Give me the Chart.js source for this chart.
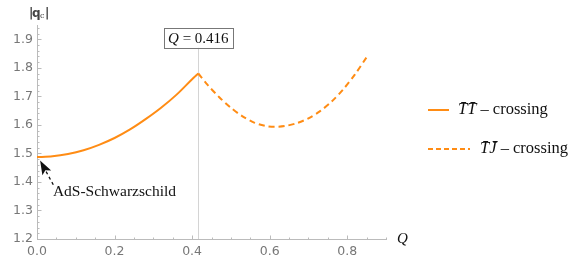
<!DOCTYPE html>
<html><head><meta charset="utf-8">
<script src="https://cdn.jsdelivr.net/npm/chart.js@4"></script>
<style>html,body{margin:0;padding:0;background:#fff}</style>
</head><body><canvas id="c" width="581" height="262" style="display:block;width:581px;height:262px"></canvas>
<script>
// Data
const qTT = [0.0, 0.04, 0.08, 0.12, 0.16, 0.2, 0.24, 0.28, 0.32, 0.36, 0.4, 0.416];
const vTT = [1.487, 1.490, 1.498, 1.511, 1.530, 1.554, 1.584, 1.620, 1.660, 1.706, 1.760, 1.780];
const qTJ = [0.416, 0.44, 0.47, 0.50, 0.53, 0.56, 0.59, 0.613, 0.64, 0.67, 0.70, 0.73, 0.76, 0.79, 0.82, 0.85];
const vTJ = [1.780, 1.740, 1.697, 1.660, 1.630, 1.608, 1.596, 1.593, 1.596, 1.606, 1.623, 1.648, 1.682, 1.725, 1.777, 1.837];
const yTicks = [1.2, 1.3, 1.4, 1.5, 1.6, 1.7, 1.8, 1.9];
const xTicks = [0.0, 0.2, 0.4, 0.6, 0.8];
const markQ = 0.416;
const labels = ['T\u0304T\u0304', 'T\u0304J\u0304'];

const ORANGE = 'rgb(255,140,20)';
const toPts = (xs, ys) => xs.map((x, i) => ({x, y: ys[i]}));

const deco = {
  id: 'deco',
  beforeDatasetsDraw(chart) {
    const {ctx, scales: {x, y}} = chart;
    ctx.save();
    ctx.strokeStyle = '#d4d4d4'; ctx.lineWidth = 1;
    const px = Math.round(x.getPixelForValue(markQ)) + 0.5;
    ctx.beginPath(); ctx.moveTo(px, y.bottom); ctx.lineTo(px, y.getPixelForValue(1.875)); ctx.stroke();
    ctx.restore();
  },
  afterDraw(chart) {
    const {ctx, scales: {x, y}} = chart;
    ctx.save();
    ctx.strokeStyle = '#bbbbbb'; ctx.lineWidth = 1;
    const x0 = Math.round(x.left) + 0.5, yb = Math.round(y.bottom) + 0.5;
    for (let k = 0; k <= 18; k++) {
      const v = k * 0.05; const p = Math.round(x.getPixelForValue(v)) + 0.5;
      const len = (k % 4 === 0) ? 4 : 2;
      ctx.beginPath(); ctx.moveTo(p, yb); ctx.lineTo(p, yb - len); ctx.stroke();
    }
    for (let k = 0; k <= 37; k++) {
      const v = 1.2 + k * 0.02; if (v > y.max) break;
      const p = Math.round(y.getPixelForValue(v)) + 0.5;
      const len = (k % 5 === 0) ? 4 : 2;
      ctx.beginPath(); ctx.moveTo(x0, p); ctx.lineTo(x0 + len, p); ctx.stroke();
    }
    const px = x.getPixelForValue(markQ);
    const by = y.getPixelForValue(1.905);
    const t1 = ' = 0.416';
    ctx.font = 'italic 15px "Liberation Serif", serif';
    const wq = ctx.measureText('Q').width;
    ctx.font = '15px "Liberation Serif", serif';
    const wt = ctx.measureText(t1).width;
    const tw = wq + wt + 8;
    ctx.fillStyle = '#fff';
    ctx.fillRect(px - tw / 2, by - 10, tw, 20);
    ctx.strokeStyle = '#777'; ctx.lineWidth = 1;
    ctx.strokeRect(Math.round(px - tw / 2) + 0.5, Math.round(by - 10) + 0.5, Math.round(tw), 20);
    ctx.fillStyle = '#111'; ctx.textBaseline = 'middle'; ctx.textAlign = 'left';
    ctx.font = 'italic 15px "Liberation Serif", serif';
    ctx.fillText('Q', px - tw / 2 + 4, by + 1);
    ctx.font = '15px "Liberation Serif", serif';
    ctx.fillText(t1, px - tw / 2 + 4 + wq, by + 1);

    const tipX = x.getPixelForValue(0.008), tipY = y.getPixelForValue(1.475);
    const tailX = x.getPixelForValue(0.042), tailY = y.getPixelForValue(1.39);
    const ang = Math.atan2(tipY - tailY, tipX - tailX);
    const hl = 12;
    const bx = tipX - hl * Math.cos(ang), byy = tipY - hl * Math.sin(ang);
    ctx.strokeStyle = '#111'; ctx.lineWidth = 1.3; ctx.setLineDash([3, 3]);
    ctx.beginPath(); ctx.moveTo(tailX, tailY); ctx.lineTo(bx, byy); ctx.stroke();
    ctx.setLineDash([]);
    ctx.fillStyle = '#111';
    ctx.beginPath();
    ctx.moveTo(tipX, tipY);
    ctx.lineTo(bx + 5 * Math.sin(ang) - 2 * Math.cos(ang), byy - 5 * Math.cos(ang) - 2 * Math.sin(ang));
    ctx.lineTo(bx + 1 * Math.cos(ang), byy + 1 * Math.sin(ang));
    ctx.lineTo(bx - 5 * Math.sin(ang) - 2 * Math.cos(ang), byy + 5 * Math.cos(ang) - 2 * Math.sin(ang));
    ctx.closePath(); ctx.fill();
    ctx.font = '15.5px "Liberation Serif", serif';
    ctx.textBaseline = 'alphabetic';
    ctx.fillText('AdS-Schwarzschild', x.getPixelForValue(0.041), y.getPixelForValue(1.35));

    ctx.fillStyle = '#444';
    ctx.font = 'bold 12px "DejaVu Sans", sans-serif';
    ctx.fillText('|', x.left - 8, 17);
    ctx.fillText('q', x.left - 5, 17);
    ctx.font = '8px "DejaVu Serif", serif';
    ctx.fillText('c', x.left + 3, 18);
    ctx.font = 'bold 12px "DejaVu Sans", sans-serif';
    ctx.fillText('|', x.left + 8, 17);
    ctx.fillStyle = '#111';
    ctx.font = 'italic 15px "Liberation Serif", serif';
    ctx.fillText('Q', x.right + 11, y.bottom + 4);

    const lx = 428, ly1 = 110, ly2 = 149;
    ctx.strokeStyle = ORANGE; ctx.lineWidth = 2;
    ctx.beginPath(); ctx.moveTo(lx, ly1); ctx.lineTo(lx + 21, ly1); ctx.stroke();
    ctx.setLineDash([5, 3]);
    ctx.beginPath(); ctx.moveTo(lx, ly2); ctx.lineTo(lx + 42, ly2); ctx.stroke();
    ctx.setLineDash([]);
    ctx.fillStyle = '#111'; ctx.textBaseline = 'middle';
    const drawLeg = (lab, tx, ty) => {
      ctx.font = 'italic 16.5px "Liberation Serif", serif';
      ctx.fillText(lab, tx, ty);
      const w = ctx.measureText(lab).width;
      ctx.font = '16.5px "Liberation Serif", serif';
      ctx.fillText(' \u2013 crossing', tx + w, ty);
    };
    drawLeg(labels[0], 458, ly1);
    drawLeg(labels[1], 480, ly2);
    ctx.restore();
  }
};

new Chart(document.getElementById('c'), {
  type: 'scatter',
  data: {
    datasets: [
      {label: labels[0], data: toPts(qTT, vTT), showLine: true, borderColor: ORANGE, borderWidth: 2, pointRadius: 0, tension: 0.3, fill: false},
      {label: labels[1], data: toPts(qTJ, vTJ), showLine: true, borderColor: ORANGE, borderWidth: 2, borderDash: [6, 4], pointRadius: 0, tension: 0.3, fill: false}
    ]
  },
  options: {
    responsive: false, animation: false, maintainAspectRatio: false,
    devicePixelRatio: 1,
    layout: {padding: {top: 25, right: 195, left: 0, bottom: 0}},
    plugins: {legend: {display: false}, tooltip: {enabled: false}},
    scales: {
      x: {
        type: 'linear', min: 0, max: 0.9,
        grid: {display: false, drawTicks: false},
        border: {display: true, color: '#bbbbbb', width: 1},
        afterBuildTicks: s => { s.ticks = xTicks.map(v => ({value: v})); },
        afterFit: s => { s.height = 23; },
        ticks: {color: '#777', font: {family: '"DejaVu Sans", sans-serif', size: 12.5}, padding: 5, maxRotation: 0,
          callback: v => Number(v).toFixed(1)}
      },
      y: {
        type: 'linear', min: 1.2, max: 1.95,
        grid: {display: false, drawTicks: false},
        border: {display: true, color: '#bbbbbb', width: 1},
        afterBuildTicks: s => { s.ticks = yTicks.map(v => ({value: v})); },
        afterFit: s => { s.width = 37; },
        ticks: {color: '#777', font: {family: '"DejaVu Sans", sans-serif', size: 12.5}, padding: 4,
          callback: v => Number(v).toFixed(1)}
      }
    }
  },
  plugins: [deco]
});
</script>
</body></html>
